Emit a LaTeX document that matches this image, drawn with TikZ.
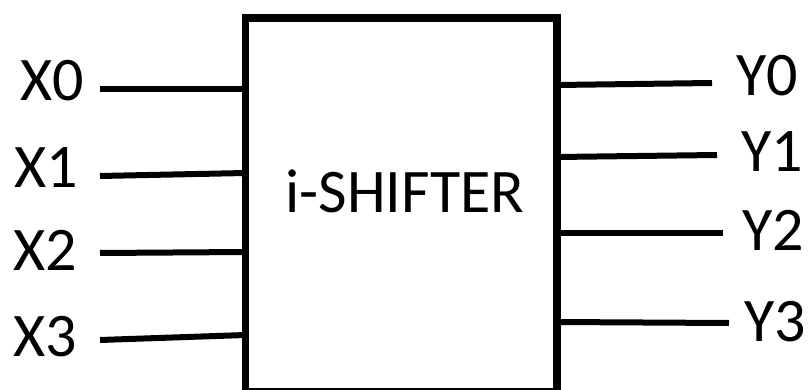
\documentclass[tikz,border=0pt]{standalone}
\usepackage{fontspec}
\setmainfont{Carlito}
\begin{document}
\begin{tikzpicture}[x=0.5pt,y=-0.5pt,
    wire/.style={line width=3pt},
    pin/.style={font=\fontsize{31}{31}\selectfont, inner sep=0pt}]
    			\useasboundingbox (0,0) rectangle (809,390);
    			\coordinate (tl) at (245.5,18);
    			\coordinate (br) at (557,392);
    			
    			\draw[line width=3.75pt] (tl) rectangle (br);
    			\node[pin] (title) at (405,191) {i-SHIFTER};
    			\foreach \i/\ya/\yb/\lx/\ly in {
    				0/89/89/52/81,
    				1/176/173/46/168,
    				2/253/252/45/250,
    				3/340/335/45/337
    			}{
    				\node[pin] (x\i) at (\lx,\ly) {X\i};
    				\coordinate (xs\i) at (100,\ya);
    				\coordinate (xe\i) at (245.5,\yb);
    				\draw[wire] (xs\i) -- (xe\i);
    			}
    			\foreach \i/\ya/\yb/\ex/\lx/\ly in {
    				0/85/83/712/767/76,
    				1/157/155/717/772/152,
    				2/233/233/723/773/230,
    				3/322/323/729/775/322
    			}{
    				\node[pin] (y\i) at (\lx,\ly) {Y\i};
    				\coordinate (ys\i) at (557,\ya);
    				\coordinate (ye\i) at (\ex,\yb);
    				\draw[wire] (ys\i) -- (ye\i);
    			}
    		\end{tikzpicture}
\end{document}
